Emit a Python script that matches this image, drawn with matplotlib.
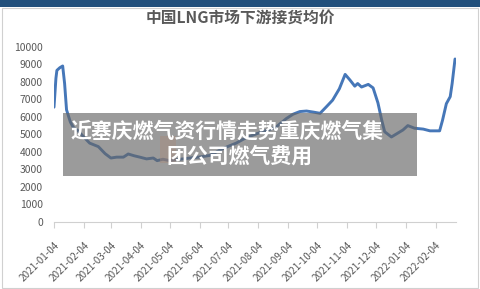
import matplotlib
matplotlib.use('Agg')
import matplotlib.pyplot as plt
import matplotlib.dates as mdates
from matplotlib.patches import Rectangle
import pandas as pd

plt.rcParams['font.family'] = ['Noto Sans CJK SC', 'DejaVu Sans']

# ── Data ──────────────────────────────────────────────────────────────────────
dates = ['2021-01-04', '2021-01-06', '2021-01-07', '2021-01-10', '2021-01-13',
         '2021-01-15', '2021-01-17', '2021-01-21', '2021-01-24', '2021-01-29',
         '2021-02-03', '2021-02-10', '2021-02-19', '2021-02-26', '2021-03-04',
         '2021-03-10', '2021-03-17', '2021-03-22', '2021-03-28', '2021-04-03',
         '2021-04-10', '2021-04-17', '2021-04-21', '2021-04-27', '2021-05-04',
         '2021-05-10', '2021-05-18', '2021-05-25', '2021-06-03', '2021-06-15',
         '2021-06-25', '2021-07-03', '2021-07-12', '2021-07-22', '2021-08-03',
         '2021-08-14', '2021-08-22', '2021-09-02', '2021-09-09', '2021-09-16',
         '2021-09-23', '2021-09-30', '2021-10-07', '2021-10-14', '2021-10-20',
         '2021-10-27', '2021-11-02', '2021-11-07', '2021-11-12', '2021-11-15',
         '2021-11-19', '2021-11-26', '2021-12-01', '2021-12-06', '2021-12-10',
         '2021-12-13', '2021-12-20', '2021-12-26', '2022-01-01', '2022-01-06',
         '2022-01-13', '2022-01-22', '2022-01-29', '2022-02-08', '2022-02-11',
         '2022-02-15', '2022-02-19', '2022-02-21', '2022-02-24']
prices = [6550, 8200, 8650, 8800, 8900,
          7900, 6400, 5700, 5400, 5200,
          4900, 4500, 4300, 3900, 3650,
          3700, 3700, 3880, 3780, 3700,
          3600, 3650, 3500, 3580, 3500,
          3550, 3600, 3650, 3700, 3800,
          4100, 4300, 4500, 4800, 5050,
          5250, 5400, 5900, 6150, 6300,
          6330, 6270, 6200, 6600, 6950,
          7600, 8420, 8100, 7750, 7900,
          7700, 7850, 7650, 6800, 5800,
          5150, 4850, 5050, 5250, 5500,
          5350, 5300, 5200, 5200, 5800,
          6750, 7150, 7900, 9300]
tick_dates = ['2021-01-04', '2021-02-04', '2021-03-04', '2021-04-04', '2021-05-04',
              '2021-06-04', '2021-07-04', '2021-08-04', '2021-09-04', '2021-10-04',
              '2021-11-04', '2021-12-04', '2022-01-04', '2022-02-04']
title = '中国LNG市场下游接货均价'
overlay_lines = ['近塞庆燃气资行情走势重庆燃气集', '团公司燃气费用']

x = pd.to_datetime(dates)
ticks = pd.to_datetime(tick_dates)

# ── Figure ────────────────────────────────────────────────────────────────────
fig = plt.figure(figsize=(4.81, 2.89), dpi=100)
fig.patch.set_facecolor('white')

# chart frame and dark top band
fig.patches.append(Rectangle((1.5 / 481, 1.5 / 289), 477 / 481, 280 / 289,
                             transform=fig.transFigure, fill=False,
                             edgecolor='#d0d0d0', linewidth=0.8, zorder=0))
fig.patches.append(Rectangle((0, 282 / 289), 1, 7 / 289,
                             transform=fig.transFigure, facecolor='#22507c',
                             edgecolor='none', zorder=1))

fig.text(240 / 481, 1 - 19 / 289, title, ha='center', va='center',
         fontsize=11.3, fontweight='bold', color='#595959')

ax = fig.add_axes([54 / 481, 67 / 289, (456 - 54) / 481, (222 - 46.7) / 289])
ax.plot(x, prices, color='#4677b8', linewidth=2.1, solid_capstyle='round')

ax.set_ylim(0, 10000)
ax.set_yticks(range(0, 10001, 1000))
ax.set_xlim(pd.Timestamp('2021-01-04'), pd.Timestamp('2021-01-04') + pd.Timedelta(days=417))
ax.set_xticks(ticks)
ax.xaxis.set_major_formatter(mdates.DateFormatter('%Y-%m-%d'))
for lab in ax.get_xticklabels():
    lab.set_rotation(45)
    lab.set_ha('right')
    lab.set_rotation_mode('anchor')

for s in ['top', 'right', 'left']:
    ax.spines[s].set_visible(False)
ax.spines['bottom'].set_color('#d0d0d0')
ax.spines['bottom'].set_linewidth(0.8)
ax.tick_params(axis='y', length=0, pad=8, labelsize=7.5, labelcolor='#595959')
ax.tick_params(axis='x', length=4, width=0.8, color='#d0d0d0', pad=9,
               labelsize=7.2, labelcolor='#595959')

# ── Overlay caption box ───────────────────────────────────────────────────────
fig.patches.append(Rectangle((63 / 481, 1 - 176 / 289), (417 - 63) / 481, (176 - 112.7) / 289,
                             transform=fig.transFigure, facecolor='#666666',
                             alpha=0.65, edgecolor='none', zorder=5))
fig.patches.append(Rectangle((160 / 481, 1 - 163 / 289), 16 / 481, 27 / 289,
                             transform=fig.transFigure, facecolor='#a88a7a',
                             alpha=0.45, edgecolor='none', zorder=5))
fig.text(227 / 481, 1 - 131.5 / 289, overlay_lines[0], ha='center', va='center',
         fontsize=15, fontweight='bold', color='white', zorder=6)
fig.text(240 / 481, 1 - 156.5 / 289, overlay_lines[1], ha='center', va='center',
         fontsize=15, fontweight='bold', color='white', zorder=6)

plt.savefig('out.png', dpi=100)
